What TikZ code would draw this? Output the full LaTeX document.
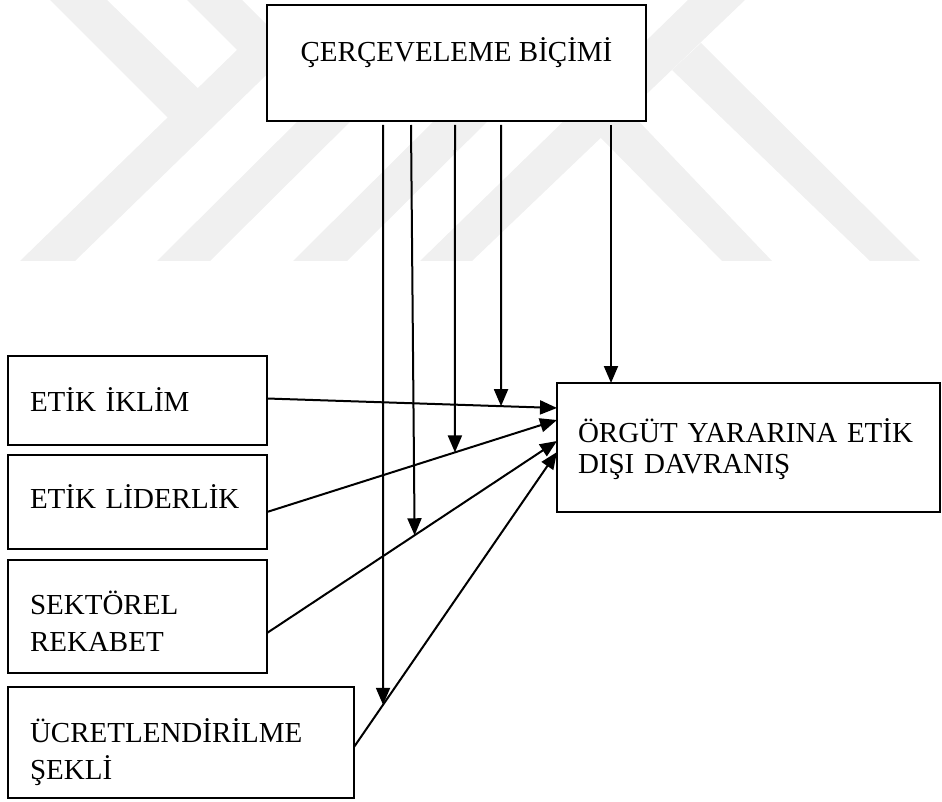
\documentclass[tikz,border=0pt]{standalone}
\usepackage{fontspec}
\setmainfont{Liberation Serif}
\usetikzlibrary{arrows.meta,calc}
\begin{document}
\begin{tikzpicture}[x=1pt,y=-1pt,
  box/.style={draw=black, line width=2pt, fill=white, rectangle, inner ysep=0pt, outer sep=0pt,
    font=\fontsize{29}{33}\selectfont, anchor=north west},
  lbox/.style={box, align=left, inner xsep=22pt},
  conn/.style={line width=2pt, -{Triangle[length=17pt,width=14pt]}},
  wm/.style={fill=black!6, draw=none}]
\useasboundingbox (0,0) rectangle (942,802);
% watermark
\fill[wm] (187,0) -- (242,0) -- (292,50) -- (75,261) -- (20,261) -- (237,50) -- cycle;
\fill[wm] (50,0) -- (107,0) -- (210,100) -- (175,125) -- cycle;
\fill[wm] (157,261) -- (210,261) -- (372,100) -- (319,100) -- cycle;
\fill[wm] (293,261) -- (347,261) -- (509,100) -- (455,100) -- cycle;
\fill[wm] (420,261) -- (472,261) -- (745,0) -- (688,0) -- cycle;
\fill[wm] (600,137) -- (628,110) -- (772,261) -- (722,261) -- cycle;
\fill[wm] (701,43) -- (920,261) -- (870,261) -- (672,70) -- cycle;
% boxes
\node[box, minimum width=379pt, minimum height=116pt, inner xsep=0pt,
  text height=21pt, text depth=23pt] (t) at (267,5) {ÇERÇEVELEME BİÇİMİ};
\node[lbox, text width=215pt, minimum height=89pt, text height=21pt, text depth=0pt]
  (e1) at (8,356) {ETİK İKLİM};
\node[lbox, text width=215pt, minimum height=94pt, text height=21pt, text depth=9pt]
  (e2) at (8,455) {ETİK LİDERLİK};
\node[lbox, text width=215pt, minimum height=113pt, text height=21pt, text depth=26pt]
  (e3) at (8,560) {SEKTÖREL\\[4pt]REKABET};
\node[lbox, text width=302pt, minimum height=111pt, text height=21pt, text depth=22pt]
  (e4) at (8,687) {ÜCRETLENDİRİLME\\[4pt]ŞEKLİ};
\node[box, align=left, inner xsep=21pt, text width=341pt, minimum height=129pt,
  text height=21pt, text depth=32pt] (o) at (557,383) {ÖRGÜT YARARINA ETİK\\[-2pt]DIŞI DAVRANIŞ};
% line end points
\coordinate (s1) at ([yshift=2pt]e1.east);
\coordinate (s2) at ([yshift=-10pt]e2.east);
\coordinate (s3) at ([yshift=-16.5pt]e3.east);
\coordinate (s4) at ([yshift=-4.5pt]e4.east);
\coordinate (d1) at ([yshift=39.5pt]o.west);
\coordinate (d2) at ([yshift=27.5pt]o.west);
\coordinate (d3) at ([yshift=6.5pt]o.west);
\coordinate (d4) at ([yshift=-4.5pt]o.west);
\coordinate (u1) at ([xshift=116pt,yshift=-4pt]t.south west);
\coordinate (u2) at ([xshift=144pt,yshift=-4pt]t.south west);
\coordinate (u3) at ([xshift=188pt,yshift=-4pt]t.south west);
\coordinate (u4) at ([xshift=234pt,yshift=-4pt]t.south west);
\coordinate (u5) at ([xshift=344pt,yshift=-4pt]t.south west);
\coordinate (m1) at ($(s1)!0.807!(d1)$);
\coordinate (m2) at ($(s2)!0.648!(d2)$);
\coordinate (m3) at ($(s3)!0.509!(d3)$);
\coordinate (m4) at ($(s4)!0.143!(d4)$);
% connectors
\draw[conn] (s1) -- (d1);
\draw[conn] (s2) -- (d2);
\draw[conn] (s3) -- (d3);
\draw[conn] (s4) -- (d4);
\draw[conn] (u1) -- (m4);
\draw[conn] (u2) -- (m3);
\draw[conn] (u3) -- (m2);
\draw[conn] (u4) -- (m1);
\draw[conn] (u5) -- (u5 |- o.north);
\end{tikzpicture}
\end{document}
